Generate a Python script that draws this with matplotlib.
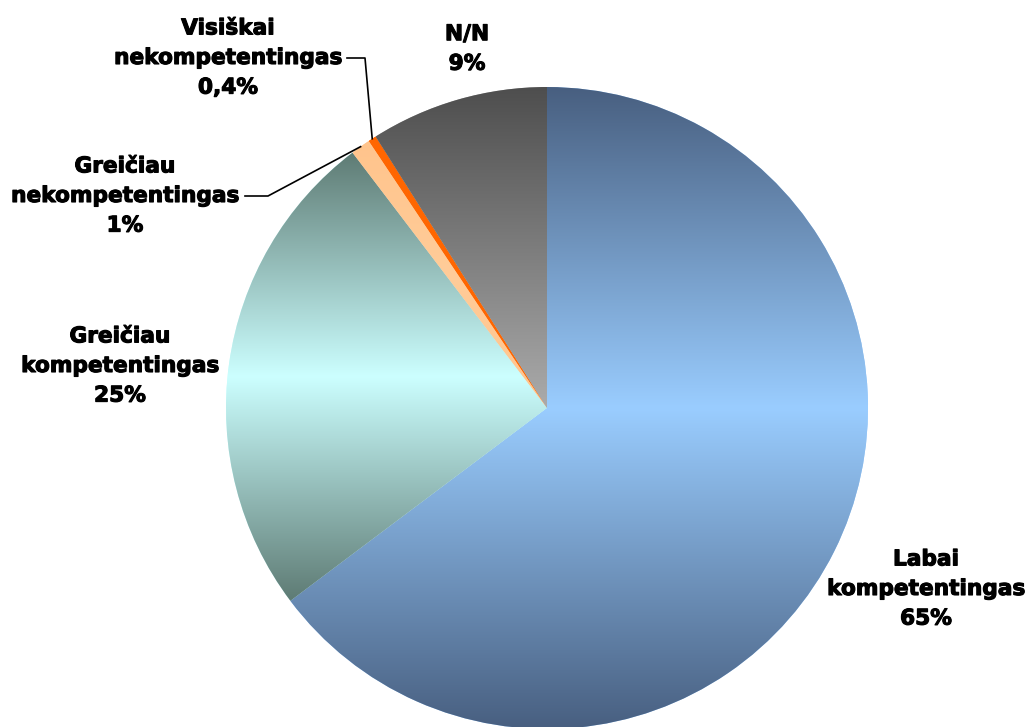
import numpy as np
import matplotlib
matplotlib.use("Agg")
import matplotlib.pyplot as plt
import matplotlib.patheffects as pe
from matplotlib.colors import to_rgb

categories = ["Labai\nkompetentingas", "Greičiau\nkompetentingas", "Greičiau\nnekompetentingas",
              "Visiškai\nnekompetentingas", "N/N"]
values = [65, 25, 1, 0.4, 9]
value_labels = ["65%", "25%", "1%", "0,4%", "9%"]
light_colors = ["#9acdff", "#ccffff", "#ffcc99", "#ff6600", "#ababab"]
dark_colors = ["#485f80", "#5e7b74", "#ffc48c", "#ff6600", "#4e4e4e"]
# gradient style per slice: "mirror" = dark at both ends of the slice, light in the middle;
# "down" = dark at top, light at bottom
grad_modes = ["mirror", "mirror", "mirror", "mirror", "down"]

W, H = 1030, 727
fig = plt.figure(figsize=(W / 100, H / 100), dpi=100)
ax = fig.add_axes([0, 0, 1, 1])

cx, cy, R = 547, H - 408, 321
wedges, _ = ax.pie(values, startangle=90, counterclock=False, center=(cx, cy), radius=R,
                   colors=light_colors, wedgeprops=dict(linewidth=0), frame=True)

for w, lc, dc, mode in zip(wedges, light_colors, dark_colors, grad_modes):
    lc = np.array(to_rgb(lc)); dc = np.array(to_rgb(dc))
    bb = w.get_path().get_extents()
    y0, y1 = bb.y0, bb.y1
    ys = np.linspace(y0, y1, 400)
    if mode == "mirror":
        ym = (y0 + y1) / 2
        t = np.clip(np.abs(ys - ym) / ((y1 - y0) / 2), 0, 1)
    else:
        t = (ys - y0) / (y1 - y0)
    t = t[:, None]
    img = lc[None, :] * (1 - t) + dc[None, :] * t
    img = np.repeat(img[:, None, :], 2, axis=1)
    im = ax.imshow(img, extent=(bb.x0, bb.x1, y0, y1), origin="lower",
                   aspect="auto", zorder=2, interpolation="bilinear")
    im.set_clip_path(w)

ax.set_xlim(0, W)
ax.set_ylim(0, H)
ax.set_aspect("equal")
ax.axis("off")

label_pos = [(926, H - 589), (120, H - 366), (125, H - 196), (228, H - 58), (467, H - 49)]
for cat, vl, (lx, ly) in zip(categories, value_labels, label_pos):
    ax.text(lx, ly, cat + "\n" + vl, ha="center", va="center", fontsize=15.6,
            fontweight="bold", linespacing=1.6, zorder=5,
            path_effects=[pe.withStroke(linewidth=0.8, foreground="black")])

# leader lines for small slices
def edge_point(w):
    mid = np.deg2rad((w.theta1 + w.theta2) / 2)
    return cx + R * np.cos(mid), cy + R * np.sin(mid)

ex, ey = edge_point(wedges[2])
ax.plot([245, 268, ex], [H - 196, H - 196, ey], color="black", lw=1.2, zorder=6)
ex, ey = edge_point(wedges[3])
ax.plot([347, 365, ex], [H - 58, H - 58, ey], color="black", lw=1.2, zorder=6)

fig.savefig("out.png", dpi=100)
